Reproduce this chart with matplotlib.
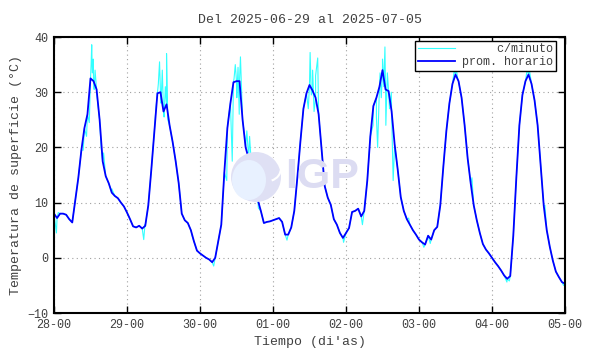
import numpy as np
import matplotlib
matplotlib.use("Agg")
import matplotlib.pyplot as plt
from matplotlib.patches import Ellipse, Wedge, Arc

# promedio horario (grados C), una lectura por hora desde 28-00
hourly_temp = [
    8.0, 7.2, 8.0, 8.0, 7.8, 7.0, 6.4, 10.5, 14.5, 19.5, 23.5, 26.0,
    32.5, 32.0, 30.5, 25.0, 17.5, 14.8, 13.5, 11.8, 11.2, 10.8, 10.0, 9.3,
    8.2, 7.0, 5.7, 5.5, 5.8, 5.3, 5.8, 9.5, 16.0, 23.0, 29.8, 30.0,
    26.5, 27.8, 24.0, 21.0, 17.5, 13.5, 8.0, 6.8, 6.3, 5.0, 3.0, 1.3,
    0.8, 0.4, 0.0, -0.3, -0.8, 0.0, 3.0, 6.0, 15.5, 23.5, 28.0, 31.8,
    32.0, 32.0, 25.0, 20.0, 18.0, 16.0, 13.5, 10.5, 8.5, 6.3, 6.5, 6.6,
    6.8, 7.0, 7.2, 6.5, 4.2, 4.2, 5.5, 8.5, 14.5, 21.0, 27.0, 29.8,
    31.3, 30.3, 29.0, 26.0, 19.5, 13.0, 10.9, 9.6, 7.0, 6.0, 4.5, 3.6,
    4.5, 5.4, 8.3, 8.5, 8.9, 7.5, 8.5, 14.0, 22.0, 27.5, 29.0, 31.0,
    34.0, 30.5, 30.2, 26.5, 20.5, 16.0, 11.0, 8.5, 7.0, 6.0, 5.0, 4.2,
    3.3, 2.8, 2.4, 4.0, 3.3, 5.0, 5.6, 9.5, 16.5, 23.0, 28.0, 31.5,
    33.2, 32.0, 29.0, 24.0, 18.0, 13.5, 9.5, 6.8, 4.5, 2.5, 1.5, 0.8,
    0.0, -0.8, -1.5, -2.3, -3.2, -3.8, -3.3, 4.0, 14.5, 24.0, 29.5, 32.0,
    33.2, 31.5, 28.5, 24.0, 16.8, 9.5, 5.0, 2.0, -0.5, -2.5, -3.5, -4.4,
    -4.7,
]
hourly_t = np.arange(len(hourly_temp))

# lecturas por minuto que se salen del promedio (hora, grados C)
spike_t = [
    0.8, 1.4, 9.6, 10.7, 11.6, 12.2, 12.4, 12.6, 12.9, 13.2, 13.5, 14.2,
    15.5, 16.3, 19.0, 29.5, 29.9, 33.5, 34.3, 34.7, 35.2, 35.6, 36.2, 36.6,
    37.0, 37.4, 45.4, 52.5, 56.8, 57.5, 58.6, 59.2, 59.6, 60.1, 60.5, 60.9,
    61.3, 62.7, 63.4, 64.3, 67.2, 76.6, 83.6, 84.2, 84.6, 85.0, 85.5, 86.0,
    86.7, 87.3, 95.2, 101.4, 104.9, 106.0, 106.4, 107.2, 107.6, 108.0, 108.4,
    108.8, 109.1, 109.6, 110.3, 110.9, 111.5, 116.6, 121.6, 123.7, 131.6,
    132.2, 132.7, 137.4, 148.9, 149.7, 155.6, 156.3, 161.4, 167.5,
]
spike_temp = [
    4.5, 8.2, 19.5, 22.0, 24.5, 35.0, 38.6, 33.5, 36.0, 30.5, 34.0, 29.0,
    20.0, 19.0, 12.5, 3.3, 6.0, 27.0, 31.5, 35.5, 28.0, 34.0, 25.5, 31.0,
    37.0, 25.0, 4.0, -1.5, 14.0, 26.0, 17.5, 32.5, 35.0, 29.0, 34.5, 26.0,
    36.4, 22.0, 23.0, 22.0, 9.0, 3.2, 27.0, 37.2, 29.5, 34.0, 26.5, 33.0,
    36.2, 24.0, 2.8, 6.0, 24.0, 25.5, 20.0, 33.5, 29.0, 36.0, 31.0,
    38.2, 24.0, 33.5, 27.0, 30.0, 14.0, 7.2, 1.9, 2.6, 34.0,
    34.5, 32.5, 14.5, -4.4, -4.2, 34.3, 34.0, 9.5, -5.0,
]

day_labels = ["28-00", "29-00", "30-00", "01-00", "02-00", "03-00", "04-00", "05-00"]
y_ticks = [-10, 0, 10, 20, 30, 40]

minute_t = np.concatenate([hourly_t, spike_t])
minute_temp = np.concatenate([hourly_temp, spike_temp])
order = np.argsort(minute_t, kind="stable")
minute_t = minute_t[order]
minute_temp = minute_temp[order]

mono = "Liberation Mono"
txt_color = "#404040"

fig = plt.figure(figsize=(5.9, 3.54), dpi=100)
ax = fig.add_axes([54 / 590, 1 - 313 / 354, 511 / 590, 276 / 354])

# marca de agua IGP
fig.add_artist(Ellipse((256 / 590, 1 - 177 / 354), 50 / 590, 50 / 354,
                       facecolor="#dfe0f4", edgecolor="none", zorder=0.5))
fig.add_artist(Ellipse((249 / 590, 1 - 180 / 354), 34 / 590, 40 / 354,
                       facecolor="#e8f1ff", edgecolor="none", zorder=0.6))
for r, th1, th2 in [(20, 300, 60), (13, 280, 80)]:
    fig.add_artist(Arc((268 / 590, 1 - 168 / 354), 2 * r / 590, 2 * r / 354,
                       theta1=th1, theta2=th2, color="white", lw=1.5, zorder=0.7))
fig.text(285 / 590, 1 - 177 / 354, "IGP", fontsize=31, fontweight="bold",
         family="Liberation Sans", color="#dcdcf2", ha="left", va="center",
         zorder=0.8)
ax.set_facecolor("none")

ax.plot(minute_t, minute_temp, color="#33ffff", lw=0.8, label="     c/minuto")
ax.plot(hourly_t, hourly_temp, color="#0000ff", lw=1.3, label="prom. horario")

ax.set_xlim(0, 168)
ax.set_ylim(-10, 40)
ax.set_xticks(np.arange(0, 169, 24))
ax.set_xticklabels(day_labels)
ax.set_yticks(y_ticks)

ax.grid(True, linestyle=(0, (1, 3)), color="#a0a0a0", lw=0.8)
ax.tick_params(direction="in", length=5, width=1, top=True, right=True,
               labelsize=8.5, labelcolor=txt_color, pad=4)
for lab in ax.get_xticklabels() + ax.get_yticklabels():
    lab.set_family(mono)
for s in ax.spines.values():
    s.set_linewidth(1.5)

ax.set_xlabel("Tiempo (di'as)", family=mono, fontsize=9.5, color=txt_color,
              labelpad=4)
ax.set_ylabel("Temperatura de superficie (°C)", family=mono, fontsize=9.5,
              color=txt_color, labelpad=4)
ax.set_title("Del 2025-06-29 al 2025-07-05", family=mono, fontsize=9.5,
             color=txt_color, pad=10)

leg = ax.legend(loc="upper right", bbox_to_anchor=(0.982, 0.986),
                borderaxespad=0, fancybox=False, edgecolor="black",
                framealpha=1, prop={"family": mono, "size": 8.5},
                handlelength=3.2, handletextpad=0.6, borderpad=0.2,
                labelspacing=0.1)
leg.get_frame().set_linewidth(1.0)
for t in leg.get_texts():
    t.set_color(txt_color)

fig.savefig("out.png", dpi=100)
